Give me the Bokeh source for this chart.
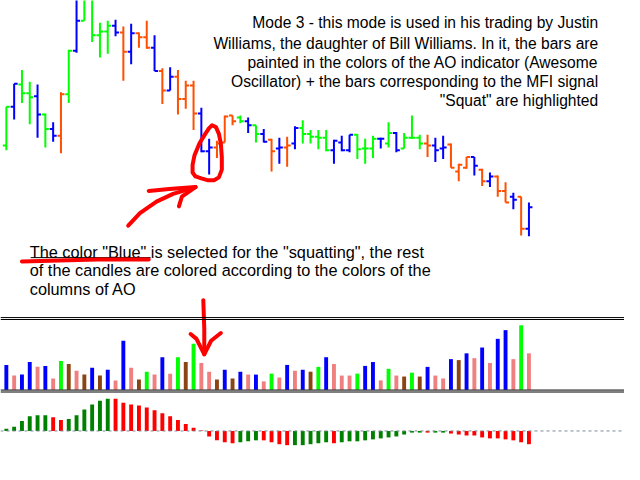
from bokeh.plotting import figure
from bokeh.models import Range1d, Span
from bokeh.core.properties import value
from bokeh.embed import file_html
from bokeh.resources import INLINE

# ---------------- data ----------------
price_open = [250, 290, 313, 304, 301, 282, 267, 260, 303, 348, 379, 406, 364, 368, 374, 367, 347,
              366, 362, 351, 327, 307, 321, 298, 312, 283, 244, 248, 253, 281, 279, 275, 271, 262,
              256, 247, 248, 252, 268, 262, 259, 258, 245, 253, 245, 261, 247, 247, 257, 252, 263,
              247, 258, 258, 252, 250, 247, 251, 223, 227, 238, 225, 213, 218, 203, 197, 197, 164]
price_high = [290, 314, 328, 316, 313, 283, 274, 305, 349, 408, 414, 410, 377, 379, 380, 373, 376,
              367, 379, 364, 330, 331, 328, 317, 317, 289, 257, 255, 281, 281, 281, 279, 271, 267,
              257, 258, 259, 270, 276, 266, 266, 266, 256, 260, 261, 262, 257, 260, 258, 274, 264,
              263, 281, 261, 261, 258, 260, 252, 231, 238, 238, 226, 222, 219, 212, 201, 197, 191]
price_low = [245, 277, 294, 272, 258, 248, 254, 242, 294, 346, 379, 357, 341, 345, 363, 317, 334,
             351, 350, 327, 293, 307, 282, 288, 266, 243, 220, 237, 253, 271, 273, 263, 253, 253,
             223, 231, 228, 246, 252, 252, 246, 244, 231, 244, 243, 236, 231, 237, 247, 248, 243,
             247, 257, 246, 238, 233, 236, 227, 213, 226, 219, 208, 207, 197, 191, 184, 157, 156]
price_close = [290, 314, 304, 300, 282, 267, 260, 303, 348, 379, 406, 364, 368, 374, 367, 347, 366,
               362, 351, 327, 307, 321, 298, 312, 283, 244, 248, 252, 280, 275, 275, 271, 262, 254,
               244, 248, 250, 268, 262, 259, 258, 245, 255, 245, 261, 246, 247, 257, 257, 263, 245,
               258, 258, 252, 250, 245, 248, 227, 230, 238, 229, 213, 218, 203, 191, 194, 164, 186]
# g = lime (AO up), b = blue (squat), o = orange-red (AO down)
price_color = ["g", "b", "g", "g", "b", "g", "b", "o", "g", "b", "g", "g", "g", "g", "b", "o", "b",
               "o", "o", "b", "o", "b", "o", "o", "o", "b", "b", "o", "o", "o", "g", "b", "g", "b",
               "o", "b", "o", "b", "g", "g", "g", "g", "b", "b", "b", "g", "g", "g", "b", "g", "b",
               "g", "g", "g", "o", "b", "b", "o", "o", "o", "b", "o", "b", "o", "o", "b", "o", "b"]

mfi_values = [25.7, 14.7, 15.7, 28.7, 23.7, 24.7, 11.7, 29.7, 26.7, 19.7, 15.7, 22.7, 14.7, 20.7,
              9.7, 50.7, 22.7, 10.7, 18.7, 15.7, 33.7, 16.7, 33.7, 28.7, 47.7, 27.7, 18.7, 10.7,
              20.7, 11.7, 18.7, 15.7, 15.7, 8.7, 16.7, 12.7, 25.7, 19.7, 20.7, 18.7, 23.7, 33.7,
              26.7, 14.7, 14.7, 16.7, 24.7, 28.7, 9.7, 21.7, 14.7, 13.7, 17.7, 13.7, 23.7, 14.7,
              11.7, 31.7, 30.7, 37.7, 32.7, 43.7, 27.7, 52.7, 61.7, 31.7, 66.7, 37.7]
mfi_color = ["B", "P", "B", "B", "P", "B", "P", "G", "R", "P", "R", "B", "R", "B", "P", "B", "P",
             "R", "G", "P", "B", "P", "G", "R", "G", "P", "P", "R", "B", "R", "B", "P", "B", "P",
             "G", "P", "B", "P", "B", "R", "G", "B", "P", "P", "P", "G", "B", "B", "P", "G", "P",
             "R", "G", "R", "B", "P", "P", "B", "R", "B", "P", "B", "P", "B", "B", "P", "G", "P"]

ao_values = [2.3, 4.3, 10.3, 15.3, 16.3, 16.3, 14.3, 11.3, 12.3, 16.3, 22.3, 27.3, 31.3, 33.3,
             33.3, 29.3, 27.3, 26.3, 24.3, 21.3, 18.3, 15.3, 11.3, 7.3, 3.3, 0.6, -5.7, -9.7,
             -11.7, -12.7, -11.7, -10.7, -9.7, -9.7, -11.7, -13.7, -14.7, -14.7, -14.7, -13.7,
             -12.7, -11.7, -12.7, -11.7, -10.7, -10.7, -9.7, -8.7, -7.7, -6.7, -5.7, -3.7, -1.7,
             -1.7, -1.7, -1.7, -1.7, -2.7, -3.7, -4.7, -4.7, -6.7, -7.7, -7.7, -8.7, -9.7, -11.7,
             -13.7]
ao_color = ["g", "g", "g", "g", "g", "g", "r", "r", "g", "g", "g", "g", "g", "g", "r", "r", "r",
            "r", "r", "r", "r", "r", "r", "r", "r", "r", "r", "r", "r", "r", "g", "g", "g", "r",
            "r", "r", "r", "g", "g", "g", "g", "g", "r", "g", "g", "g", "g", "g", "g", "g", "g",
            "g", "g", "g", "r", "g", "g", "r", "r", "r", "r", "r", "r", "r", "r", "r", "r", "r"]

note_top = ["Mode 3 - this mode is used in his trading by Justin",
            "Williams, the daughter of Bill Williams. In it, the bars are",
            "painted in the colors of the AO indicator (Awesome",
            "Oscillator) + the bars corresponding to the MFI signal",
            "\"Squat\" are highlighted"]
note_bottom = ["The color \"Blue\" is selected for the \"squatting\", the rest",
               "of the candles are colored according to the colors of the",
               "columns of AO"]

# ---------------- styling maps ----------------
PRICE_COL = {"g": "#00FF00", "b": "#0000FF", "o": "#FF4F00"}
MFI_COL = {"B": "#0000FF", "P": "#F08080", "G": "#00FF00", "R": "#8B4513"}
AO_COL = {"g": "#008000", "r": "#FF0000"}

n = len(price_open)
idx = list(range(n))

W, H = 624, 464
p = figure(width=W, height=H, output_backend="svg", toolbar_location=None,
           x_range=Range1d(-0.75, 79.25), y_range=Range1d(480, 0),
           min_border=0, background_fill_color="white", border_fill_color="white")
p.extra_x_ranges = {"px": Range1d(0, 640)}
p.extra_y_ranges = {"price": Range1d(-80, 400),
                    "mfi": Range1d(-77.3, 402.7),
                    "ao": Range1d(-34.7, 445.3)}
p.axis.visible = False
p.xgrid.visible = False
p.ygrid.visible = False
p.outline_line_color = None

# price bars (OHLC)
pc = [PRICE_COL[c] for c in price_color]
p.segment(x0=idx, x1=idx, y0=price_low, y1=price_high, line_color=pc, line_width=2,
          y_range_name="price")
p.segment(x0=[i - 0.45 for i in idx], x1=idx, y0=price_open, y1=price_open, line_color=pc,
          line_width=2, y_range_name="price")
p.segment(x0=idx, x1=[i + 0.45 for i in idx], y0=price_close, y1=price_close, line_color=pc,
          line_width=2, y_range_name="price")

# panel separators
for loc in (328, 330, 403, 405):
    p.add_layout(Span(location=loc, dimension="width", line_color="black", line_width=1))

# MFI histogram
p.vbar(x=idx, top=mfi_values, bottom=0, width=0.5, fill_color=[MFI_COL[c] for c in mfi_color],
       line_color=None, y_range_name="mfi")

# AO histogram
p.vbar(x=idx, top=ao_values, bottom=0, width=0.5, fill_color=[AO_COL[c] for c in ao_color],
       line_color=None, y_range_name="ao")
p.add_layout(Span(location=0, dimension="width", line_color="#7A8896", line_width=1,
                  line_dash="3 3", y_range_name="ao"))

# texts
font = value("Liberation Sans")
p.text(x=[613] * len(note_top), y=[23, 44, 64, 84, 103], text=note_top, x_range_name="px",
       text_align="right", text_baseline="middle", text_font=font, text_font_size="15.6px",
       text_color="black")
p.text(x=[30] * len(note_bottom), y=[260, 279, 298], text=note_bottom, x_range_name="px",
       text_align="left", text_baseline="middle", text_font=font, text_font_size="16.3px",
       text_color="black")
p.line(x=[31, 154], y=[266, 266], x_range_name="px", line_color="black", line_width=1)

# hand-drawn red marks
red = dict(line_color="#FF0000", line_width=4, line_cap="round", line_join="round",
           x_range_name="px")
loop_x = [214, 210, 204, 199, 197, 197, 200, 206, 213, 219, 224, 227, 227, 226, 224, 221, 217, 213]
loop_y = [132, 138, 148, 160, 170, 178, 182, 184, 186, 186, 183, 175, 162, 148, 138, 131, 129, 133]
p.line(x=loop_x, y=loop_y, **red)
p.line(x=[131, 143, 160, 177, 200], y=[233, 220, 208, 200, 193], **red)
p.line(x=[152, 173, 200], y=[197, 195, 193], **red)
p.line(x=[183, 186, 200], y=[213, 203, 193], **red)
p.line(x=[22, 60, 100, 152], y=[270, 269, 268, 268], **red)
p.line(x=[208, 209, 209], y=[310, 340, 366], **red)
p.line(x=[195, 201, 209, 216, 226], y=[345, 350, 366, 352, 344], **red)

open("out.html", "w").write(file_html(p, INLINE))
